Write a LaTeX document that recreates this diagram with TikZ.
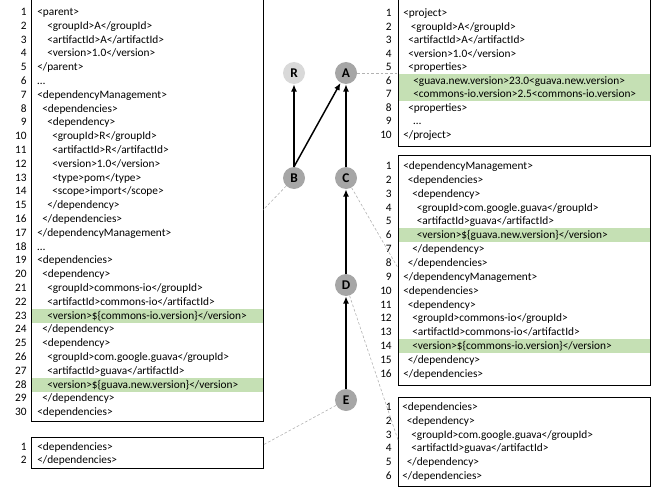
\documentclass[tikz,border=0pt]{standalone}
\usepackage{fontspec}
\setmainfont{Carlito}
\usetikzlibrary{arrows.meta}

\definecolor{hlgreen}{RGB}{197,224,180}
\definecolor{pomgray}{RGB}{166,166,166}
\definecolor{pomlight}{RGB}{217,217,217}

\tikzset{
  codetext/.style = {anchor=base west, inner sep=0pt, font=\fontsize{8.5}{10}\selectfont},
  linenum/.style = {anchor=base east, inner sep=0pt, font=\fontsize{8.5}{10}\selectfont},
  codebox/.style = {draw=black, line width=0.6pt},
  pom/.style = {circle, fill=pomgray, minimum size=16.5pt, inner sep=0pt, font=\bfseries\fontsize{10}{10}\selectfont},
  dep/.style = {-{Latex[length=5.5pt,width=4.5pt]}, line width=1.1pt},
  link/.style = {draw=gray!60, line width=0.45pt, dash pattern=on 2pt off 1.5pt}
}

\begin{document}
\begin{tikzpicture}[x=0.75pt, y=-0.75pt]
  \useasboundingbox (0,0) rectangle (667,492);

  % pom of B (left)
  \fill[hlgreen] (31,{315.6-6.9}) rectangle (263,{315.6+6.9});
  \fill[hlgreen] (31,{384.6-6.9}) rectangle (263,{384.6+6.9});
  \foreach \ind/\txt [count=\i] in {
      0/{<parent>}, 2/{<groupId>A</groupId>}, 2/{<artifactId>A</artifactId>},
      2/{<version>1.0</version>}, 0/{</parent>}, 0/{…},
      0/{<dependencyManagement>}, 1/{<dependencies>}, 2/{<dependency>},
      3/{<groupId>R</groupId>}, 3/{<artifactId>R</artifactId>}, 3/{<version>1.0</version>},
      3/{<type>pom</type>}, 3/{<scope>import</scope>}, 2/{</dependency>},
      1/{</dependencies>}, 0/{</dependencyManagement>}, 0/{…},
      0/{<dependencies>}, 1/{<dependency>}, 2/{<groupId>commons-io</groupId>},
      2/{<artifactId>commons-io</artifactId>}, 2/{<version>\$\{commons-io.version\}</version>},
      1/{</dependency>}, 1/{<dependency>}, 2/{<groupId>com.google.guava</groupId>},
      2/{<artifactId>guava</artifactId>}, 2/{<version>\$\{guava.new.version\}</version>},
      1/{</dependency>}, 0/{<dependencies>}}{
    \node[linenum] (nb\i) at (27,{15.5+13.8*(\i-1)}) {\i};
    \node[codetext] (cb\i) at ({37+5*\ind},{15.5+13.8*(\i-1)}) {\txt};
  }
  \draw[codebox] (31,-2) rectangle (263,421);

  % pom of E (left)
  \foreach \txt [count=\i] in {{<dependencies>}, {</dependencies>}}{
    \node[linenum] (ne\i) at (27,{450.5+13*(\i-1)}) {\i};
    \node[codetext] (ce\i) at (37,{450.5+13*(\i-1)}) {\txt};
  }
  \draw[codebox] (31,437) rectangle (263,468);

  % pom of A (right)
  \fill[hlgreen] (398,74) rectangle (650,101);
  \foreach \ind/\txt [count=\i] in {
      0/{<project>}, 1.5/{<groupId>A</groupId>}, 1/{<artifactId>A</artifactId>},
      1/{<version>1.0</version>}, 1/{<properties>},
      2/{<guava.new.version>23.0<guava.new.version>},
      2/{<commons-io.version>2.5<commons-io.version>},
      1/{<properties>}, 2/{…}, 0/{</project>}}{
    \node[linenum] (na\i) at (392,{16.5+13.55*(\i-1)}) {\i};
    \node[codetext] (ca\i) at ({403+5*\ind},{16.5+13.55*(\i-1)}) {\txt};
  }
  \draw[codebox] (398,-2) rectangle (650,146);

  % pom of C (right)
  \fill[hlgreen] (398,{235.25-6.9}) rectangle (650,{235.25+6.9});
  \fill[hlgreen] (398,{346.05-6.9}) rectangle (650,{346.05+6.9});
  \foreach \ind/\txt [count=\i] in {
      0/{<dependencyManagement>}, 1/{<dependencies>}, 2/{<dependency>},
      3/{<groupId>com.google.guava</groupId>}, 3/{<artifactId>guava</artifactId>},
      3/{<version>\$\{guava.new.version\}</version>}, 2/{</dependency>},
      1/{</dependencies>}, 0/{</dependencyManagement>}, 0/{<dependencies>},
      1/{<dependency>}, 2/{<groupId>commons-io</groupId>},
      2/{<artifactId>commons-io</artifactId>}, 2/{<version>\$\{commons-io.version\}</version>},
      1/{</dependency>}, 0/{</dependencies>}}{
    \node[linenum] (nc\i) at (392,{169.5+13.85*(\i-1)}) {\i};
    \node[codetext] (cc\i) at ({403+4.5*\ind},{169.5+13.85*(\i-1)}) {\txt};
  }
  \draw[codebox] (398,155) rectangle (650,385);

  % pom of D (right)
  \foreach \ind/\txt [count=\i] in {
      0/{<dependencies>}, 1/{<dependency>}, 2/{<groupId>com.google.guava</groupId>},
      2/{<artifactId>guava</artifactId>}, 1/{</dependency>}, 0/{</dependencies>}}{
    \node[linenum] (nd\i) at (392,{410.5+13.8*(\i-1)}) {\i};
    \node[codetext] (cd\i) at ({402+4.5*\ind},{410.5+13.8*(\i-1)}) {\txt};
  }
  \draw[codebox] (398,397) rectangle (650,486);

  % dependency graph
  \node[pom, fill=pomlight] (R) at (294,73) {R};
  \node[pom] (A) at (346,73) {A};
  \node[pom] (B) at (294,178) {B};
  \node[pom] (C) at (346,178) {C};
  \node[pom] (D) at (346,285) {D};
  \node[pom] (E) at (346,400) {E};

  \coordinate (boxA) at (398,73);
  \coordinate (boxB) at (263,210);
  \coordinate (boxC) at (398,268);
  \coordinate (boxD) at (398,440);
  \coordinate (boxE) at (263,445);
  \draw[link] (A) -- (boxA);
  \draw[link] (B) -- (boxB);
  \draw[link] (C) -- (boxC);
  \draw[link] (D) -- (boxD);
  \draw[link] (E) -- (boxE);

  \draw[dep] (B) -- (R);
  \draw[dep] (B.north) -- (A);
  \draw[dep] (C) -- (A);
  \draw[dep] (D) -- (C);
  \draw[dep] (E) -- (D);
\end{tikzpicture}
\end{document}
